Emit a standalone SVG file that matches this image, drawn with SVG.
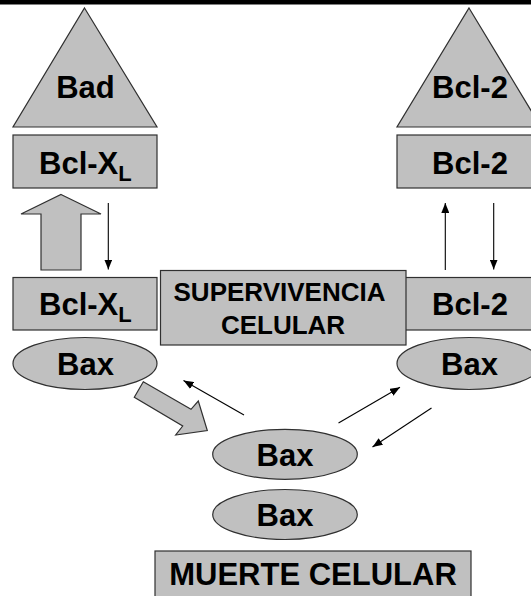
<svg xmlns="http://www.w3.org/2000/svg" width="531" height="596" viewBox="0 0 531 596">
<defs>
<style>
.shape{fill:#c0c0c0;stroke:#303030;stroke-width:1.2}
.t{font-family:"Liberation Sans",Arial,sans-serif;font-weight:bold;fill:#000}
.big{font-size:31px}
.mid{font-size:26px}
.line{stroke:#000;stroke-width:1.1;fill:none}
</style>
<marker id="ah" markerUnits="userSpaceOnUse" markerWidth="10" markerHeight="8" refX="10" refY="4" orient="auto">
<path d="M0,0 L10,4 L0,8 z" fill="#000"/>
</marker>
</defs>
<rect x="0" y="0" width="531" height="4.5" fill="#000"/>

<g id="bad">
<polygon class="shape" points="84.5,8 157,127 13,127"/>
<text class="t big" x="85.5" y="98" text-anchor="middle">Bad</text>
</g>
<g id="bclxl-top">
<rect class="shape" x="13" y="135" width="144" height="53"/>
<text class="t big" x="39" y="174">Bcl-X<tspan font-size="22" dy="7">L</tspan></text>
</g>
<g id="bcl2-tri">
<polygon class="shape" points="469,8 541,127 397,127"/>
<text class="t big" x="470" y="98" text-anchor="middle">Bcl-2</text>
</g>
<g id="bcl2-top">
<rect class="shape" x="397" y="135" width="144" height="53"/>
<text class="t big" x="470" y="174" text-anchor="middle">Bcl-2</text>
</g>
<g id="bclxl-mid">
<rect class="shape" x="13" y="277.5" width="144" height="52.5"/>
<text class="t big" x="39" y="315">Bcl-X<tspan font-size="22" dy="7">L</tspan></text>
</g>
<g id="bcl2-mid">
<rect class="shape" x="397" y="277.5" width="144" height="52.5"/>
<text class="t big" x="470" y="315" text-anchor="middle">Bcl-2</text>
</g>
<g id="supervivencia">
<rect class="shape" x="160.5" y="270.5" width="245.5" height="74.5"/>
<text class="t mid" x="279.5" y="301" text-anchor="middle">SUPERVIVENCIA</text>
<text class="t mid" x="283" y="333.5" text-anchor="middle">CELULAR</text>
</g>
<g id="bax-left">
<ellipse class="shape" cx="85" cy="363.5" rx="72" ry="26"/>
<text class="t big" x="85.5" y="375" text-anchor="middle">Bax</text>
</g>
<g id="bax-right">
<ellipse class="shape" cx="469" cy="363.5" rx="72" ry="26"/>
<text class="t big" x="469.5" y="375" text-anchor="middle">Bax</text>
</g>
<g id="bax-mid">
<ellipse class="shape" cx="285" cy="454.3" rx="72.3" ry="25"/>
<text class="t big" x="285" y="466" text-anchor="middle">Bax</text>
</g>
<g id="bax-bottom">
<ellipse class="shape" cx="285" cy="514.5" rx="72.3" ry="25"/>
<text class="t big" x="285" y="526" text-anchor="middle">Bax</text>
</g>
<g id="muerte">
<rect class="shape" x="155" y="551" width="316" height="50"/>
<text class="t big" x="313" y="585" text-anchor="middle">MUERTE CELULAR</text>
</g>

<g id="connectors">
<polygon class="shape" points="61,194.5 101,214 81,214 81,270 41,270 41,214 21,214"/>
<polygon class="shape" points="143.3,381.7 191,409.3 198.3,401 207.3,430.5 175.7,435 182.7,426 134.3,397.3"/>
<line class="line" x1="108.3" y1="203" x2="108.3" y2="269.5" marker-end="url(#ah)"/>
<line class="line" x1="445.3" y1="270" x2="445.3" y2="203" marker-end="url(#ah)"/>
<line class="line" x1="493.7" y1="203" x2="493.7" y2="269.5" marker-end="url(#ah)"/>
<line class="line" x1="244" y1="415" x2="183.5" y2="380.5" marker-end="url(#ah)"/>
<line class="line" x1="338.5" y1="423" x2="400" y2="387.3" marker-end="url(#ah)"/>
<line class="line" x1="431.5" y1="408" x2="372.5" y2="447" marker-end="url(#ah)"/>
</g>
</svg>
